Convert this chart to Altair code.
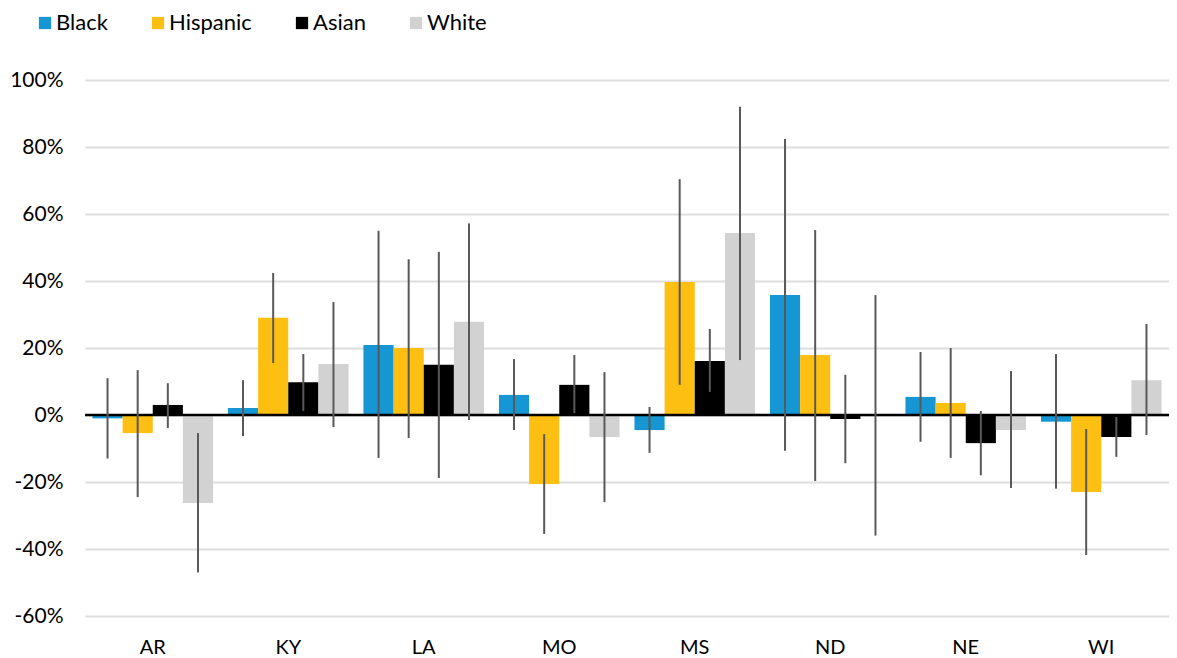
import altair as alt
import pandas as pd

states = ["AR", "KY", "LA", "MO", "MS", "ND", "NE", "WI"]
groups = ["Black", "Hispanic", "Asian", "White"]
colors = ["#1696d2", "#fdbf11", "#000000", "#d2d2d2"]

black = [-1.0, 2.1, 20.9, 6.0, -4.5, 35.8, 5.4, -2.0]
black_lo = [-13.0, -6.3, -12.8, -4.5, -11.3, -10.7, -8.0, -22.0]
black_hi = [11.0, 10.4, 55.0, 16.7, 2.4, 82.4, 18.8, 18.2]

hispanic = [-5.4, 29.0, 20.0, -20.6, 39.7, 17.9, 3.6, -23.0]
hispanic_lo = [-24.5, 15.5, -6.9, -35.5, 9.0, -19.7, -12.8, -41.8]
hispanic_hi = [13.4, 42.4, 46.5, -5.7, 70.4, 55.2, 20.0, -4.2]

asian = [3.0, 9.8, 15.0, 9.0, 16.1, -1.2, -8.4, -6.6]
asian_lo = [-3.9, 1.2, -18.8, 0.6, 6.9, -14.4, -18.0, -12.5]
asian_hi = [9.5, 18.2, 48.7, 17.9, 25.7, 12.0, 1.2, -0.6]

white = [-26.3, 15.2, 27.8, -6.6, 54.3, 0.0, -4.5, 10.4]
white_lo = [-47.0, -3.6, -1.5, -26.0, 16.4, -36.0, -21.8, -6.0]
white_hi = [-5.4, 33.7, 57.2, 12.8, 92.0, 35.8, 13.1, 27.2]

series = {
    "Black": (black, black_lo, black_hi),
    "Hispanic": (hispanic, hispanic_lo, hispanic_hi),
    "Asian": (asian, asian_lo, asian_hi),
    "White": (white, white_lo, white_hi),
}

rows = []
for g in groups:
    v, lo, hi = series[g]
    for i, s in enumerate(states):
        rows.append({"state": s, "group": g, "value": v[i], "lo": lo[i], "hi": hi[i]})
df = pd.DataFrame(rows)

FONT = "Lato"

x_enc = alt.X("state:N", sort=states, title=None,
              scale=alt.Scale(paddingInner=0.11, paddingOuter=0.055),
              axis=alt.Axis(labelAngle=0, labelFontSize=20, labelColor="#000000",
                            labelFont=FONT, ticks=False, domain=False,
                            labelPadding=21, grid=False))
xoff = alt.XOffset("group:N", sort=groups, scale=alt.Scale(paddingInner=0, paddingOuter=0))
y_scale = alt.Scale(domain=[-60, 100], nice=False)

base = alt.Chart(df)

bars = base.mark_bar().encode(
    x=x_enc,
    xOffset=xoff,
    y=alt.Y("value:Q", scale=y_scale, title=None,
            axis=alt.Axis(values=[-60, -40, -20, 0, 20, 40, 60, 80, 100],
                          labelExpr="datum.value + '%'",
                          labelFontSize=21, labelFont=FONT, labelColor="#000000",
                          ticks=False, domain=False, labelPadding=22,
                          grid=True, gridColor="#dedede", gridWidth=2)),
    color=alt.Color("group:N", sort=groups,
                    scale=alt.Scale(domain=groups, range=colors),
                    legend=alt.Legend(title=None, orient="none", direction="horizontal",
                                      legendX=-51, legendY=-68,
                                      symbolType="square", symbolSize=150,
                                      symbolStrokeWidth=0, symbolOpacity=1,
                                      labelFontSize=22, labelFont=FONT,
                                      labelColor="#000000", labelOffset=0,
                                      columnPadding=39, padding=0)),
)

zero = alt.Chart(pd.DataFrame({"z": [0]})).mark_rule(color="#000000", strokeWidth=2.5).encode(
    y=alt.Y("z:Q", scale=y_scale)
)

errs = base.mark_rule(color="#595959", strokeWidth=2).encode(
    x=alt.X("state:N", sort=states),
    xOffset=xoff,
    y=alt.Y("lo:Q", scale=y_scale),
    y2="hi:Q",
)

chart = alt.layer(bars, zero, errs).properties(
    width=1084, height=536,
    autosize=alt.AutoSizeParams(type="none"),
    padding={"left": 77, "top": 72, "right": 0, "bottom": 40},
).configure(font=FONT).configure_view(stroke=None)

chart.save("out.html", embed_options={"renderer": "svg", "actions": False})
